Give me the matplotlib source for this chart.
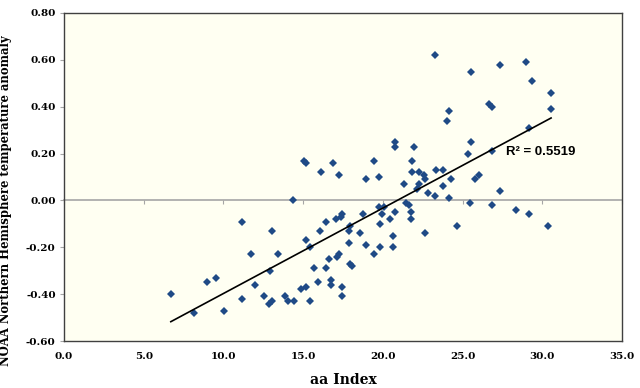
import numpy as np
import matplotlib
matplotlib.use("Agg")
import matplotlib.pyplot as plt

# aa index vs NOAA NH temperature anomaly
aa_index = [
    6.7, 8.15, 8.95, 9.55, 10.05, 11.15, 11.15, 11.75, 11.95, 12.55,
    12.85, 13.05, 13.05, 13.45, 12.95, 13.85, 14.05, 14.45, 14.35, 14.85,
    15.05, 15.15, 16.85, 16.15, 17.25, 18.95, 19.45, 19.75, 20.75, 20.75,
    21.95, 21.85, 21.85, 22.25, 22.55, 22.65, 21.35, 22.25, 22.85, 23.25,
    19.75, 20.05, 21.45, 21.65, 21.75, 20.75, 19.95, 18.75, 17.45, 17.35,
    17.05, 16.45, 20.45, 21.75, 19.85, 16.05, 17.95, 17.85, 18.55, 22.65,
    20.65, 15.15, 15.45, 17.85, 18.95, 19.85, 20.65, 19.45, 17.25, 17.15,
    16.65, 17.95, 18.05, 15.65, 16.45, 15.15, 15.95, 16.75, 16.75, 17.45,
    17.45, 15.45, 23.25, 25.55, 27.35, 28.95, 29.35, 30.55, 30.55, 26.65,
    26.85, 24.15, 24.05, 29.15, 25.55, 25.35, 26.85, 23.35, 23.75, 26.05,
    25.75, 24.25, 23.75, 24.15, 27.35, 25.45, 26.85, 28.35, 29.15, 30.35,
    24.65, 22.15,
]
anomaly = [
    -0.40, -0.48, -0.35, -0.33, -0.47, -0.42, -0.09, -0.23, -0.36, -0.41,
    -0.44, -0.43, -0.13, -0.23, -0.30, -0.41, -0.43, -0.43, 0.00, -0.38,
    0.17, 0.16, 0.16, 0.12, 0.11, 0.09, 0.17, 0.10, 0.25, 0.23,
    0.23, 0.17, 0.12, 0.12, 0.11, 0.09, 0.07, 0.07, 0.03, 0.02,
    -0.03, -0.03, -0.01, -0.02, -0.05, -0.05, -0.06, -0.06, -0.06, -0.07,
    -0.08, -0.09, -0.08, -0.08, -0.10, -0.13, -0.11, -0.13, -0.14, -0.14,
    -0.15, -0.17, -0.20, -0.18, -0.19, -0.20, -0.20, -0.23, -0.23, -0.24,
    -0.25, -0.27, -0.28, -0.29, -0.29, -0.37, -0.35, -0.34, -0.36, -0.37,
    -0.41, -0.43, 0.62, 0.55, 0.58, 0.59, 0.51, 0.46, 0.39, 0.41,
    0.40, 0.38, 0.34, 0.31, 0.25, 0.20, 0.21, 0.13, 0.13, 0.11,
    0.09, 0.09, 0.06, 0.01, 0.04, -0.01, -0.02, -0.04, -0.06, -0.11,
    -0.11, 0.05,
]
r2_label = "R\u00b2 = 0.5519"

x_ticks = np.arange(0, 35.1, 5)
y_ticks = np.arange(-0.6, 0.81, 0.2)

serif = "DejaVu Serif"
blue = "#1F4A86"
grey = "#A6A6A6"

fig = plt.figure(figsize=(6.4, 3.88), dpi=100)
ax = fig.add_axes([0.1, 0.1211, 0.8719, 0.8454])
ax.set_facecolor("#FFFFF2")

x = np.array(aa_index)
y = np.array(anomaly)
ax.plot(x, y, "D", color=blue, markersize=4.4, markeredgewidth=0, zorder=3)

slope, intercept = np.polyfit(x, y, 1)
xl = np.array([x.min(), x.max()])
ax.plot(xl, slope * xl + intercept, color="black", lw=1.2, zorder=4)

ax.text(0.792, 0.576, r2_label, transform=ax.transAxes, fontsize=9.5,
        fontweight="bold", family="Liberation Sans", va="center", ha="left")

ax.set_xlim(0, 35)
ax.set_ylim(-0.6, 0.8)
ax.set_xticks(x_ticks)
ax.set_xticklabels([f"{v:.1f}" for v in x_ticks], fontsize=7.5,
                   fontweight="bold", family=serif)
ax.set_yticks(y_ticks)
ax.set_yticklabels([f"{v:.2f}" for v in y_ticks], fontsize=7.5,
                   fontweight="bold", family=serif)
ax.tick_params(axis="x", length=0, pad=8)
ax.tick_params(axis="y", direction="out", length=3, color=grey, pad=3)

for s in ax.spines.values():
    s.set_color("#404040")
    s.set_linewidth(1.0)

# horizontal axis line crossing at y = 0
ymin, ymax = ax.get_ylim()
sec = ax.secondary_xaxis((0 - ymin) / (ymax - ymin))
sec.set_xticks(x_ticks)
sec.tick_params(direction="out", length=3, color=grey, labelbottom=False,
                labeltop=False)
for s in sec.spines.values():
    s.set_color(grey)
    s.set_linewidth(1.2)

ax.set_xlabel("aa Index", fontsize=10, fontweight="bold", family=serif)
ax.xaxis.set_label_coords(0.5, -0.098)
ax.set_ylabel("NOAA Northern Hemisphere temperature anomaly", fontsize=8.4,
              fontweight="bold", family=serif)
ax.yaxis.set_label_coords(-0.093, 0.427)

fig.savefig("out.png", dpi=100)
